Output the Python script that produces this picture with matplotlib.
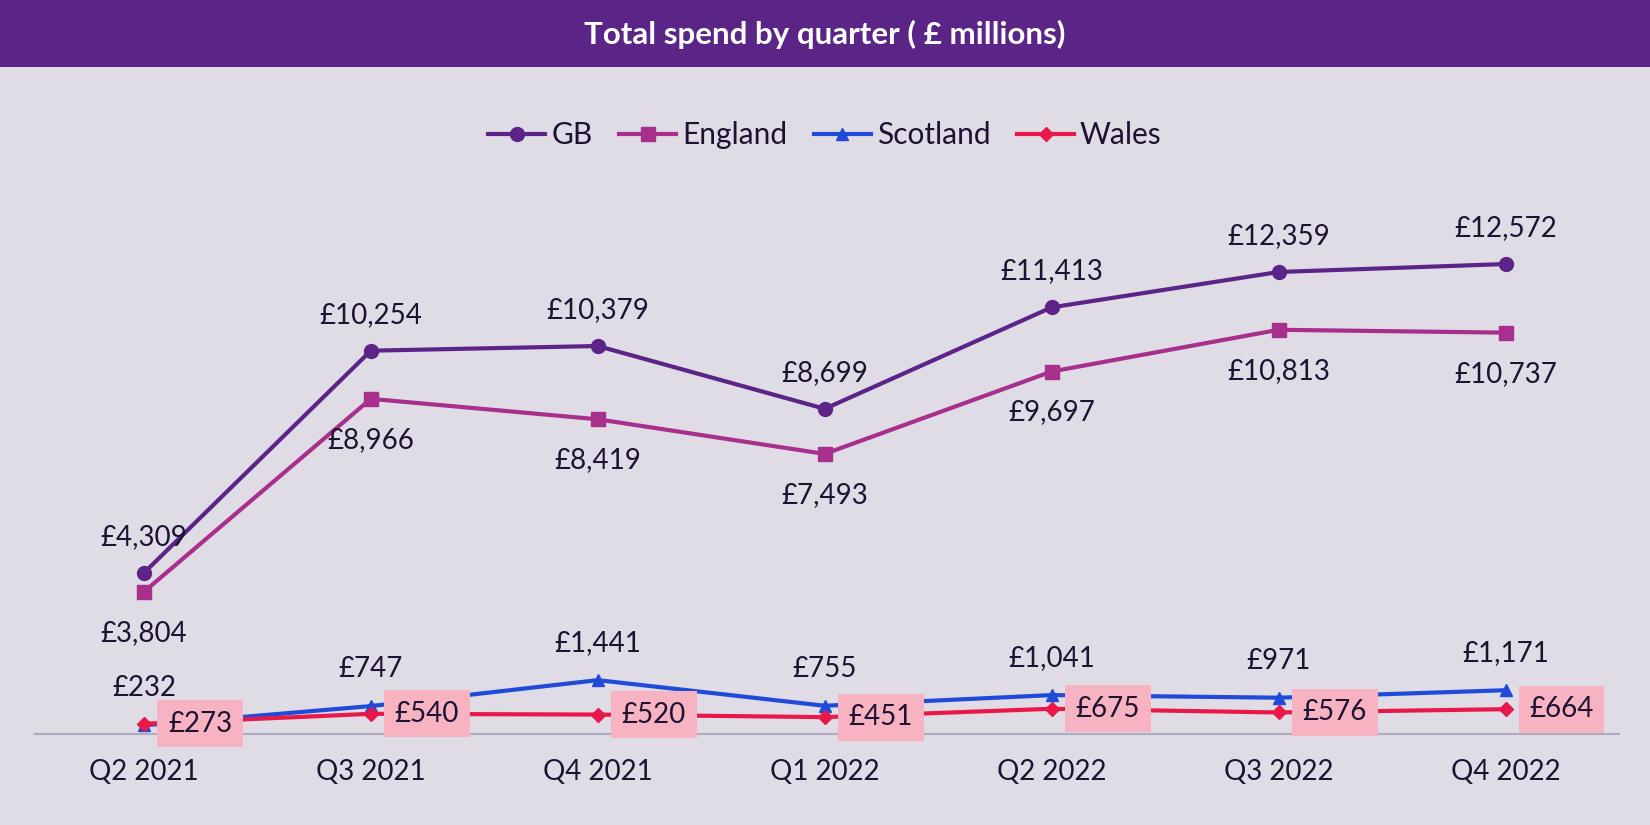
import numpy as np
import matplotlib.pyplot as plt

plt.rcParams['font.family'] = ['Lato', 'DejaVu Sans']

# Data
quarters = ['Q2 2021', 'Q3 2021', 'Q4 2021', 'Q1 2022', 'Q2 2022', 'Q3 2022', 'Q4 2022']
gb = [4309, 10254, 10379, 8699, 11413, 12359, 12572]
england = [3804, 8966, 8419, 7493, 9697, 10813, 10737]
scotland = [232, 747, 1441, 755, 1041, 971, 1171]
wales = [273, 540, 520, 451, 675, 576, 664]

bg = '#dfdce6'
txt = '#1e1232'
c_gb = '#5c2388'
c_eng = '#a8308c'
c_sco = '#1f4bd8'
c_wal = '#e8194a'

fig = plt.figure(figsize=(16.5, 8.25), dpi=100)
fig.patch.set_facecolor(bg)

# title band
fig.patches.append(plt.Rectangle((0, 1 - 67 / 825), 1, 67 / 825, transform=fig.transFigure,
                                 facecolor='#5b2587', edgecolor='none', zorder=0))
fig.text(0.5, 1 - 34 / 825, 'Total spend by quarter ( £ millions)', color='white',
         fontsize=22.5, fontweight='bold', ha='center', va='center')

ax = fig.add_axes([35 / 1650, 91 / 825, 1584 / 1650, 594 / 825])
ax.set_facecolor(bg)
x = np.arange(len(quarters))

ax.plot(x, gb, color=c_gb, lw=3, marker='o', ms=10, label='GB', zorder=3)
ax.plot(x, england, color=c_eng, lw=3, marker='s', ms=9.5, label='England', zorder=3)
ax.plot(x, scotland, color=c_sco, lw=3, marker='^', ms=9, label='Scotland', zorder=3)
ax.plot(x, wales, color=c_wal, lw=3, marker='D', ms=7, label='Wales', zorder=4)

fs = 20
for i in range(len(x)):
    ax.annotate(f'£{gb[i]:,}', (x[i], gb[i]), xytext=(0, 36), textcoords='offset pixels',
                ha='center', va='center', fontsize=fs, color=txt)
    ax.annotate(f'£{england[i]:,}', (x[i], england[i]), xytext=(0, -41), textcoords='offset pixels',
                ha='center', va='center', fontsize=fs, color=txt)
    ax.annotate(f'£{scotland[i]:,}', (x[i], scotland[i]), xytext=(0, 37), textcoords='offset pixels',
                ha='center', va='center', fontsize=fs, color=txt)
    ax.annotate(f'£{wales[i]:,}', (x[i], wales[i]), xytext=(24, 0), textcoords='offset pixels',
                ha='left', va='center', fontsize=fs, color=txt, zorder=6,
                bbox=dict(boxstyle='square,pad=0.38', facecolor='#f8b3c2', edgecolor='none'))

ax.set_xlim(-0.48, 6.5)
ax.set_ylim(0, 15890)
ax.set_xticks(x)
ax.set_xticklabels(quarters, fontsize=fs, color=txt)
ax.tick_params(axis='x', length=0, pad=18)
ax.set_yticks([])
for s in ['top', 'right', 'left']:
    ax.spines[s].set_visible(False)
ax.spines['bottom'].set_color('#b0aac0')
ax.spines['bottom'].set_linewidth(1.5)

leg = fig.legend(loc='center', bbox_to_anchor=(0.5, 1 - 135 / 825), ncol=4, frameon=False,
                 fontsize=21.5, handlelength=1.9, handletextpad=0.2, columnspacing=0.9,
                 labelcolor=txt)

fig.savefig('out.png', dpi=100, facecolor=bg)
